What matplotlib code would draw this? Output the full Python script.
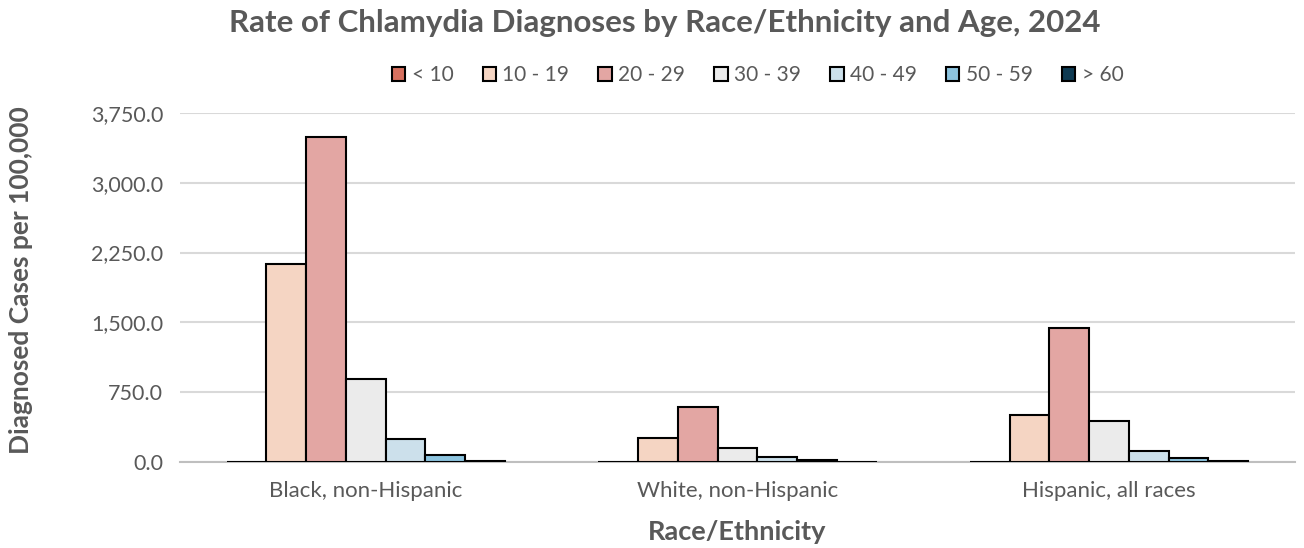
import matplotlib.pyplot as plt
import numpy as np
from matplotlib.ticker import FuncFormatter

plt.rcParams['font.family'] = ['Lato', 'DejaVu Sans']

groups = ["Black, non-Hispanic", "White, non-Hispanic", "Hispanic, all races"]
ages = ["< 10", "10 - 19", "20 - 29", "30 - 39", "40 - 49", "50 - 59", "> 60"]
colors = ["#D6705F", "#F5D5C3", "#E3A6A3", "#EBEBEB", "#CCE0EB", "#8DC4DF", "#0E3A52"]

# rates per 100,000, one list per age band (black, white, hispanic)
lt10 = [4, 3, 3]
a10_19 = [2128, 258, 505]
a20_29 = [3490, 591, 1440]
a30_39 = [886, 155, 441]
a40_49 = [245, 54, 115]
a50_59 = [80, 16, 46]
gt60 = [7, 4, 5]
series = [lt10, a10_19, a20_29, a30_39, a40_49, a50_59, gt60]

grey = "#595959"
fig = plt.figure(figsize=(13.04, 5.48), dpi=100)
ax = fig.add_axes([0.138, 0.157, 0.855, 0.637])

x = np.arange(len(groups))
w = 0.107
for i, vals in enumerate(series):
    ax.bar(x + (i - 3) * w, vals, w, color=colors[i], edgecolor="black",
           linewidth=1.5, label=ages[i], zorder=3)

ax.set_xlim(-0.5, 2.5)
ax.set_ylim(0, 3750)
ax.set_yticks(np.arange(0, 3751, 750))
ax.yaxis.set_major_formatter(FuncFormatter(lambda v, p: "{:,.1f}".format(v)))
ax.set_xticks(x)
ax.set_xticklabels(groups)
ax.tick_params(axis="y", length=0, labelsize=15.5, labelcolor=grey, pad=12)
ax.tick_params(axis="x", length=0, labelsize=16, labelcolor=grey, pad=14)
ax.grid(axis="y", color="#D9D9D9", linewidth=1.5, zorder=0)
for s in ["top", "right", "left"]:
    ax.spines[s].set_visible(False)
ax.spines["bottom"].set_color("#BFBFBF")
ax.spines["bottom"].set_linewidth(1.5)

ax.set_xlabel("Race/Ethnicity", fontsize=19.5, fontweight="bold", color=grey)
ax.xaxis.set_label_coords(0.5, -0.165)
ax.set_ylabel("Diagnosed Cases per 100,000", fontsize=19, fontweight="bold", color=grey)
ax.yaxis.set_label_coords(-0.132, 0.52)
fig.text(0.51, 0.958, "Rate of Chlamydia Diagnoses by Race/Ethnicity and Age, 2024",
         ha="center", va="center", fontsize=22.5, fontweight="bold", color=grey)
fig.legend(loc="center", bbox_to_anchor=(0.581, 0.863), ncol=7, frameon=False,
           fontsize=15, labelcolor=grey, handlelength=0.65, handleheight=0.65,
           handletextpad=0.3, columnspacing=1.4)

fig.savefig("out.png", dpi=100)
